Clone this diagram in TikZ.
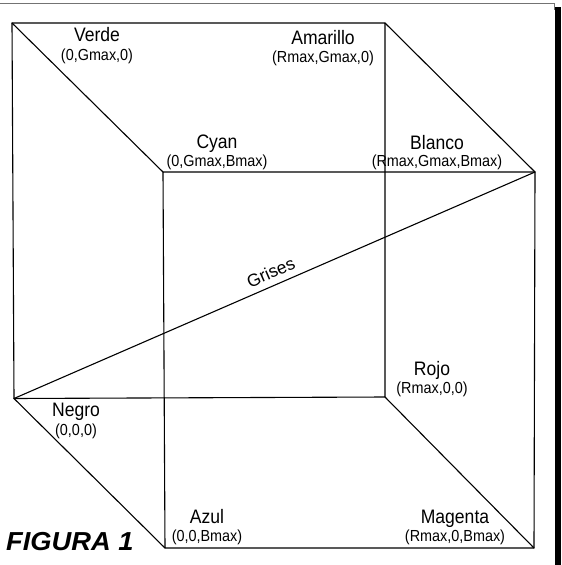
\documentclass[tikz,border=0pt]{standalone}
\usepackage{fontspec}
\setmainfont{Liberation Sans}
\newfontfamily\namefont[FakeStretch=0.9]{Liberation Sans}
\newfontfamily\figfont[FakeStretch=1.05]{Liberation Sans}
\begin{document}
\begin{tikzpicture}[x=1pt,y=-1pt,
  edge/.style={line width=1.1pt, line cap=round, line join=round},
  cname/.style={font=\namefont\fontsize{19.5}{21}\selectfont, anchor=base, inner sep=0pt},
  ccoord/.style={font=\namefont\fontsize{16}{18}\selectfont, anchor=base, inner sep=0pt},
  frameline/.style={line width=0.8pt, draw=black!55}]
\useasboundingbox (0,0) rectangle (562,565);
% frame
\draw[frameline] (0,3) -- (554,3) -- (554,10);
\fill[black] (555,7) rectangle (560.5,565);
% vertices
\coordinate (V) at (12,23);
\coordinate (A) at (385,23);
\coordinate (N) at (14,398.5);
\coordinate (R) at (385,397);
\coordinate (C) at (163,172);
\coordinate (W) at (535,172);
\coordinate (Z) at (165,548);
\coordinate (M) at (534,548);
% edges
\draw[edge] (V) -- (A) -- (R) -- (N) -- cycle;
\draw[edge] (C) -- (W) -- (M) -- (Z) -- cycle;
\draw[edge] (V) -- (C);
\draw[edge] (A) -- (W);
\draw[edge] (N) -- (Z);
\draw[edge] (R) -- (M);
\draw[edge] (N) -- node[sloped, pos=0.503, above=6.5pt, inner sep=0pt, font=\fontsize{17.5}{20}\selectfont] (grises) {Grises} (W);
% labels
\node[cname] (lverde) at (97,41.7) {Verde};
\node[ccoord] (cverde) at (97,60.7) {(0,Gmax,0)};
\node[cname] (lamar) at (323,44) {Amarillo};
\node[ccoord] (camar) at (323,62) {(Rmax,Gmax,0)};
\node[cname] (lcyan) at (217,148) {Cyan};
\node[ccoord] (ccyan) at (217,166.5) {(0,Gmax,Bmax)};
\node[cname] (lblanco) at (437,149) {Blanco};
\node[ccoord] (cblanco) at (437,166.7) {(Rmax,Gmax,Bmax)};
\node[cname] (lrojo) at (432,375) {Rojo};
\node[ccoord] (crojo) at (432,393.5) {(Rmax,0,0)};
\node[cname] (lnegro) at (76,416) {Negro};
\node[ccoord] (cnegro) at (76,435) {(0,0,0)};
\node[cname] (lazul) at (207,523) {Azul};
\node[ccoord] (cazul) at (207,541) {(0,0,Bmax)};
\node[cname] (lmag) at (455,523) {Magenta};
\node[ccoord] (cmag) at (455,541) {(Rmax,0,Bmax)};
\node[anchor=base west, inner sep=0pt, font=\figfont\bfseries\itshape\fontsize{26}{28}\selectfont] (fig) at (6,550) {FIGURA 1};
\end{tikzpicture}
\end{document}
